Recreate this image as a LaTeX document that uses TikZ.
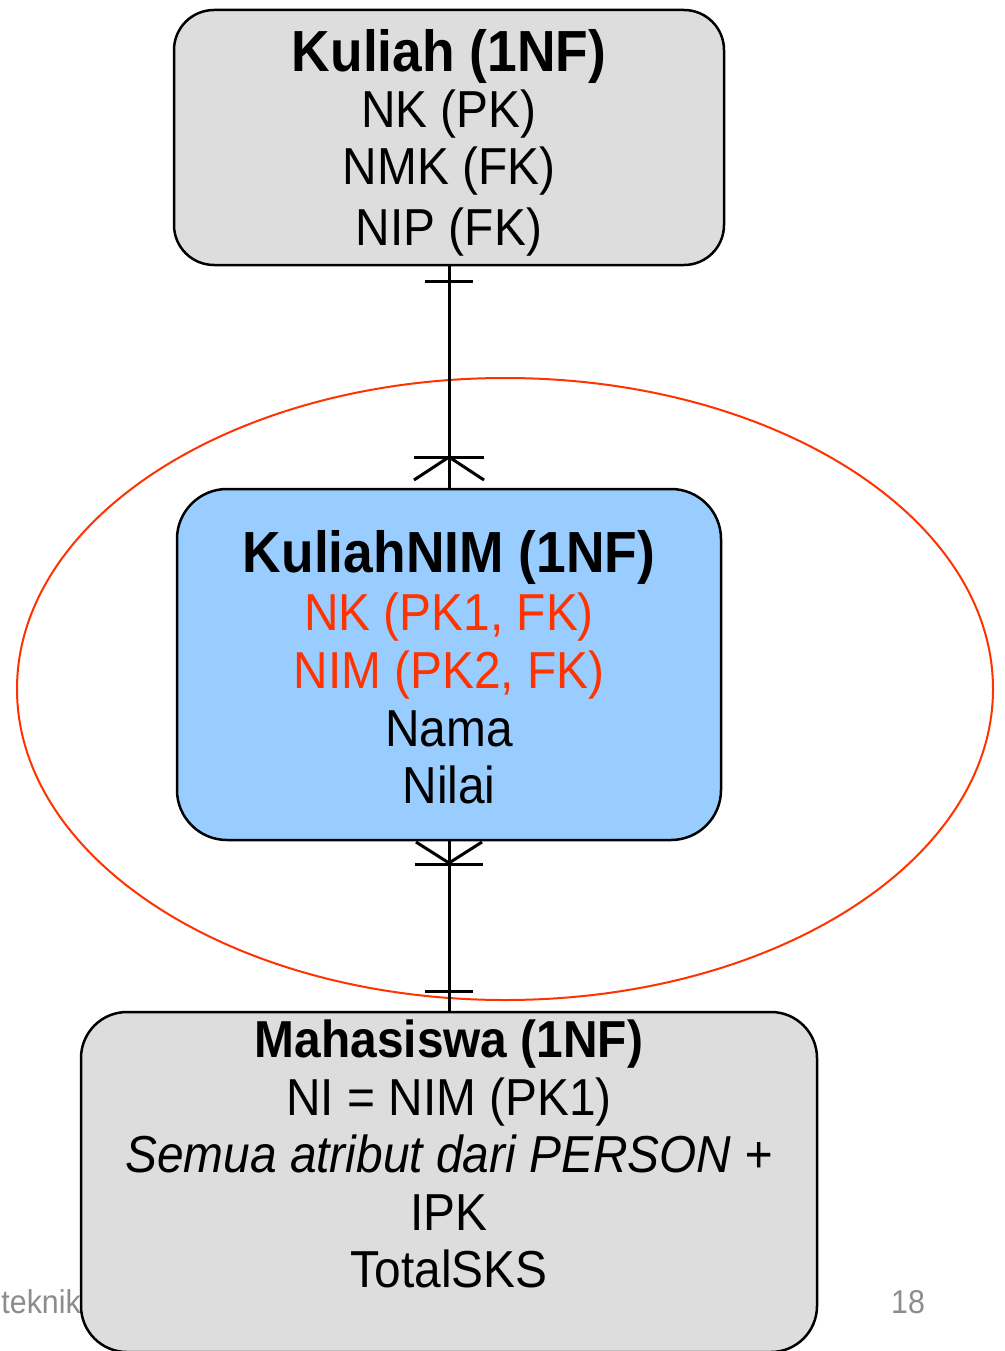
\documentclass[tikz,border=0pt]{standalone}
\usepackage{fontspec}
\setmainfont{Liberation Sans}[FakeStretch=0.92]
\usetikzlibrary{calc}
\definecolor{boxgray}{HTML}{DDDDDD}
\definecolor{boxblue}{HTML}{99CCFF}
\definecolor{keyred}{HTML}{FF3300}
\definecolor{footgray}{HTML}{8C8C8C}
\tikzset{
  entbox/.style={draw=black, line width=2.5pt, rounded corners=#1, inner sep=0pt, outer sep=0pt},
  regtxt/.style={anchor=base, inner sep=0pt, font=\fontsize{52}{60}\selectfont},
  titletxt/.style={anchor=base, inner sep=0pt, font=\fontsize{58}{66}\selectfont\bfseries},
  conn/.style={line width=3pt},
  foot/.style={inner sep=0pt, text=footgray, font=\fontsize{33}{39}\selectfont}
}
\begin{document}
\begin{tikzpicture}[x=1pt,y=-1pt]
\useasboundingbox (0,0) rectangle (1004,1351);
\clip (0,0) rectangle (1004,1351);
\fill[white] (0,0) rectangle (1004,1351);
% ellipse highlight
\draw[keyred, line width=2pt] (505,689) ellipse [x radius=488, y radius=311];
% footer texts
\node[foot, anchor=base east] (ftl) at (81,1313) {teknik};
\node[foot, anchor=base] (ftr) at (908,1313) {18};
% boxes
\node[entbox=40pt, fill=boxgray, minimum width=550pt, minimum height=255pt] (kul) at (449,137.5) {};
\node[entbox=50pt, fill=boxblue, minimum width=544pt, minimum height=351pt] (knim) at (449,664.5) {};
\node[entbox=46pt, fill=boxgray, minimum width=736pt, minimum height=340pt] (mah) at (449,1182) {};
% texts Kuliah
\node[titletxt] (k0) at (449,72) {Kuliah (1NF)};
\node[regtxt] (k1) at (449,128) {NK (PK)};
\node[regtxt] (k2) at (449,185) {NMK (FK)};
\node[regtxt] (k3) at (449,245) {NIP (FK)};
% texts KuliahNIM
\node[titletxt] (n0) at (449,572) {KuliahNIM (1NF)};
\node[regtxt, text=keyred] (n1) at (449,630) {NK (PK1, FK)};
\node[regtxt, text=keyred] (n2) at (449,688) {NIM (PK2, FK)};
\node[regtxt] (n3) at (449,746) {Nama};
\node[regtxt] (n4) at (449,803) {Nilai};
% texts Mahasiswa
\node[titletxt, font=\fontsize{52}{60}\selectfont\bfseries] (m0) at (449,1057) {Mahasiswa (1NF)};
\node[regtxt] (m1) at (449,1115) {NI = NIM (PK1)};
\node[regtxt] (m2) at (449,1172) {\itshape Semua atribut dari PERSON +};
\node[regtxt] (m3) at (449,1230) {IPK};
\node[regtxt] (m4) at (449,1287) {TotalSKS};
% connector Kuliah - KuliahNIM
\draw[conn] (kul.south) -- (knim.north);
\draw[conn] ($(kul.south)+(-24,16)$) -- ($(kul.south)+(24,16)$);
\draw[conn] ($(knim.north)+(-35,-32)$) -- ($(knim.north)+(35,-32)$);
\draw[conn] ($(knim.north)+(-35,-9)$) -- ($(knim.north)+(0,-32)$) -- ($(knim.north)+(35,-9)$);
% connector KuliahNIM - Mahasiswa
\draw[conn] (knim.south) -- (mah.north);
\draw[conn] ($(knim.south)+(-33,2)$) -- ($(knim.south)+(0,23)$) -- ($(knim.south)+(33,2)$);
\draw[conn] ($(knim.south)+(-34,24)$) -- ($(knim.south)+(34,24)$);
\draw[conn] ($(mah.north)+(-24,-21)$) -- ($(mah.north)+(24,-21)$);
\end{tikzpicture}
\end{document}
